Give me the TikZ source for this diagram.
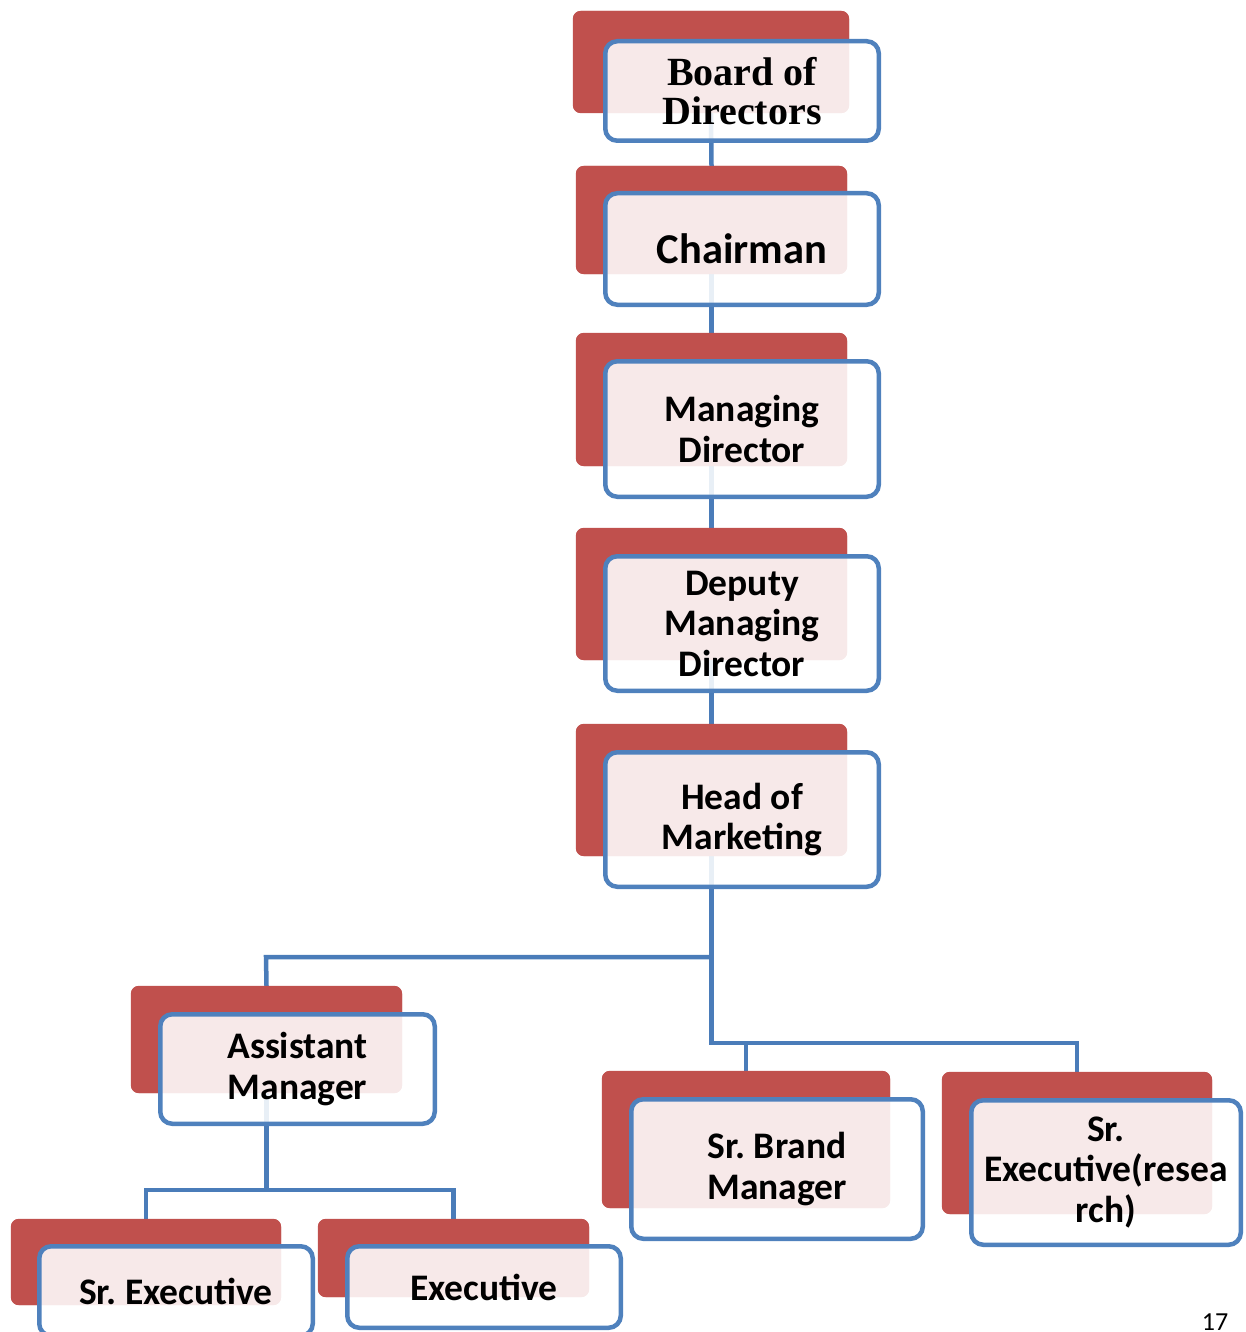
\documentclass[tikz,border=0pt]{standalone}
\usepackage{fontspec}
\setmainfont{Carlito}
\newfontfamily\serifbd{Liberation Serif}
\frenchspacing
\definecolor{backred}{HTML}{C0504D}
\definecolor{frontblue}{HTML}{4F81BD}
\definecolor{connblue}{HTML}{4A7CB9}
\tikzset{
  backbox/.style={rectangle, rounded corners=8pt, fill=backred, draw=none, inner sep=0pt},
  frontbox/.style={rectangle, rounded corners=12pt, draw=frontblue, line width=4.5pt, fill=white, fill opacity=0.88, text opacity=1, inner sep=0pt, align=center, font=\fontsize{37.5}{40.5}\selectfont\bfseries},
  conn/.style={draw=connblue, line width=4.5pt},
}
\begin{document}
\begin{tikzpicture}[x=1pt,y=-1pt]
\useasboundingbox (0,0) rectangle (1245,1332);
\clip (0,0) rectangle (1245,1332);
% junction coordinates
\coordinate (j1) at (266,957);
\coordinate (j2) at (1077,1043);
\coordinate (j3) at (146,1190);
% back boxes (nodes)
\node[backbox, minimum width=276pt, minimum height=102pt] (bod-r) at (711,62) {};
\node[backbox, minimum width=271pt, minimum height=108pt] (ch-r) at (711.5,220) {};
\node[backbox, minimum width=271pt, minimum height=133pt] (md-r) at (711.5,399.5) {};
\node[backbox, minimum width=271pt, minimum height=132pt] (dmd-r) at (711.5,594) {};
\node[backbox, minimum width=271pt, minimum height=132pt] (hom-r) at (711.5,790) {};
\node[backbox, minimum width=271pt, minimum height=107pt] (am-r) at (266.5,1039.5) {};
\node[backbox, minimum width=288pt, minimum height=137pt] (sbm-r) at (746,1139.5) {};
\node[backbox, minimum width=270pt, minimum height=142pt] (sre-r) at (1077,1143) {};
\node[backbox, minimum width=270pt, minimum height=86pt] (se-r) at (146,1262) {};
\node[backbox, minimum width=271pt, minimum height=78pt] (ex-r) at (453.5,1258) {};
% connectors (behind front boxes)
\draw[conn] (bod-r.south) -- (ch-r.north);
\draw[conn] (ch-r.south) -- (md-r.north);
\draw[conn] (md-r.south) -- (dmd-r.north);
\draw[conn] (dmd-r.south) -- (hom-r.north);
\draw[conn] (hom-r.south) |- (j1) -- (am-r.north);
\draw[conn] (hom-r.south) |- (j2) -- (sre-r.north);
\draw[conn] (sbm-r.north) -- (sbm-r.north |- j2);
\draw[conn] (am-r.south) |- (j3) -- (se-r.north);
\draw[conn] (ex-r.north) |- (j3);
% redraw back boxes over connectors
\foreach \n in {bod-r,ch-r,md-r,dmd-r,hom-r,am-r,sbm-r,sre-r,se-r,ex-r}{
  \fill[backred, rounded corners=8pt] (\n.north west) rectangle (\n.south east);
}
% front boxes
\node[frontbox, minimum width=273.5pt, minimum height=99.5pt, font=\fontsize{40}{39}\selectfont\serifbd\bfseries] (bod-f) at (742,91) {Board of\\Directors};
\node[frontbox, minimum width=273.5pt, minimum height=111.5pt, font=\fontsize{42.5}{44}\selectfont\bfseries] (ch-f) at (742,249) {Chairman};
\node[frontbox, minimum width=273.5pt, minimum height=135.5pt] (md-f) at (742,429) {Managing\\Director};
\node[frontbox, minimum width=273.5pt, minimum height=134.5pt] (dmd-f) at (742,623.5) {Deputy\\Managing\\Director};
\node[frontbox, minimum width=273.5pt, minimum height=134.5pt] (hom-f) at (742,819.5) {Head of\\Marketing};
\node[frontbox, minimum width=274.5pt, minimum height=109.5pt] (am-f) at (297.5,1069) {Assistant\\Manager};
\node[frontbox, minimum width=291.5pt, minimum height=139.5pt] (sbm-f) at (777,1169) {Sr. Brand\\Manager};
\node[frontbox, minimum width=269.5pt, minimum height=144.5pt] (sre-f) at (1106,1172.5) {Sr.\\Executive(resea\\rch)};
\node[frontbox, minimum width=273.5pt, minimum height=89.5pt] (se-f) at (176,1291) {Sr. Executive};
\node[frontbox, minimum width=273.5pt, minimum height=81.5pt] (ex-f) at (484,1287) {Executive};
\node[font=\fontsize{26}{28}\selectfont, anchor=base] (pg) at (1215,1330) {17};
\end{tikzpicture}
\end{document}
